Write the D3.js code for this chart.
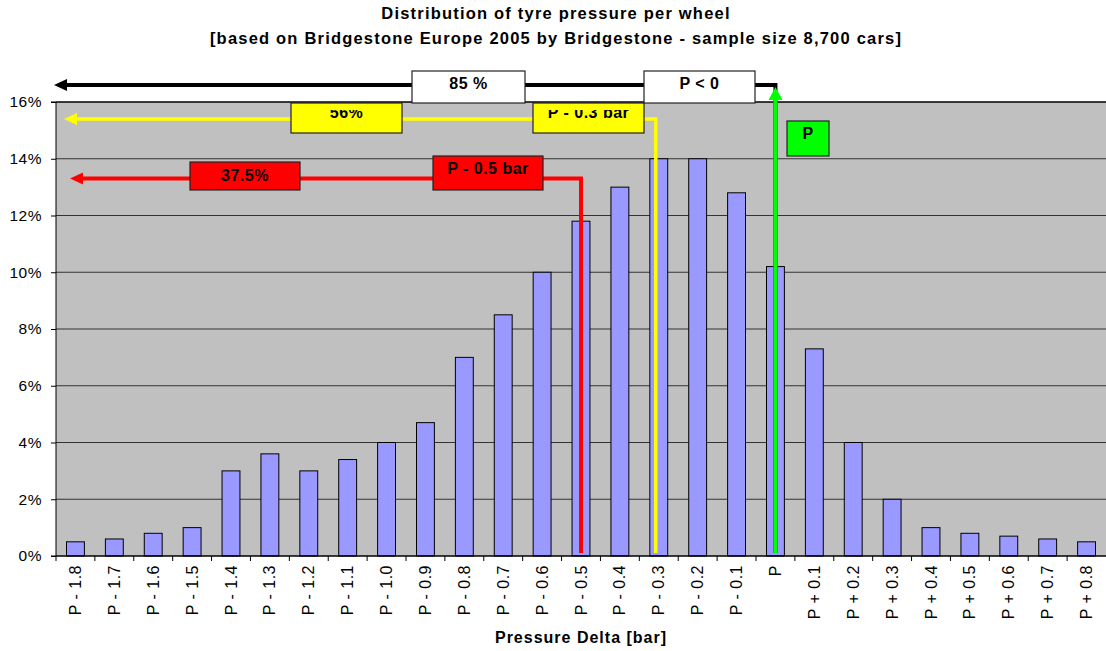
<!DOCTYPE html>
<html>
<head>
<meta charset="utf-8">
<script src="https://cdn.jsdelivr.net/npm/d3@7"></script>
<style>
	body { margin: 0; background: #fff; }
	svg { display: block; }
	text { font-family: Arial, "Liberation Sans", sans-serif; fill: #000; }
</style>
</head>
<body>
<div id="chart"></div>
<script>
(function () {

	'use strict';

	// categories and shares (%)
	let categories = ['P - 1.8', 'P - 1.7', 'P - 1.6', 'P - 1.5', 'P - 1.4', 'P - 1.3', 'P - 1.2', 'P - 1.1', 'P - 1.0',
		'P - 0.9', 'P - 0.8', 'P - 0.7', 'P - 0.6', 'P - 0.5', 'P - 0.4', 'P - 0.3', 'P - 0.2', 'P - 0.1',
		'P', 'P + 0.1', 'P + 0.2', 'P + 0.3', 'P + 0.4', 'P + 0.5', 'P + 0.6', 'P + 0.7', 'P + 0.8'];
	let shares = [0.5, 0.6, 0.8, 1.0, 3.0, 3.6, 3.0, 3.4, 4.0,
		4.7, 7.0, 8.5, 10.0, 11.8, 13.0, 14.0, 14.0, 12.8,
		10.2, 7.3, 4.0, 2.0, 1.0, 0.8, 0.7, 0.6, 0.5];
	let yTicks = [0, 2, 4, 6, 8, 10, 12, 14, 16];

	// threshold annotations: category where the line drops, level of the left arrow
	let markerCats = ['P - 0.5', 'P - 0.3', 'P'];
	let markerLevels = [13.3, 15.4, 16.6];
	let markerColors = ['#ff0000', '#ffff00', '#00ff00'];
	let shareLabels = ['37.5%', '56%', '85 %'];
	let limitLabels = ['P - 0.5 bar', 'P - 0.3 bar', 'P < 0'];

	let width = 1106, height = 651;
	let margin = {top: 102, right: 0, bottom: 95, left: 56};

	let svg = d3.select('#chart').append('svg')
		.attr('width', width)
		.attr('height', height);

	let x = d3.scaleBand()
		.domain(categories)
		.range([margin.left, width - margin.right])
		.paddingInner(0.54)
		.paddingOuter(0.27);

	let y = d3.scaleLinear()
		.domain([0, 16])
		.range([height - margin.bottom, margin.top]);

	let step = x.step();
	let bw = x.bandwidth();
	let cx = function (c) { return x(c) + bw / 2; };

	// title
	let titleLines = ['Distribution of tyre pressure per wheel',
		'[based on Bridgestone Europe 2005 by Bridgestone - sample size 8,700 cars]'];
	svg.append('g').selectAll('text')
		.data(titleLines)
		.enter().append('text')
		.attr('x', 556)
		.attr('y', function (d, i) { return 19 + i * 25; })
		.attr('text-anchor', 'middle')
		.style('font-size', '16.5px').style('font-weight', 'bold')
		.style('letter-spacing', '1.2px')
		.text(function (d) { return d; });

	// plot background
	svg.append('rect')
		.attr('x', margin.left).attr('y', margin.top)
		.attr('width', width - margin.left - margin.right)
		.attr('height', y(0) - margin.top)
		.attr('fill', '#c0c0c0');

	// gridlines
	svg.append('g').selectAll('line')
		.data(yTicks.slice(1, -1))
		.enter().append('line')
		.attr('x1', margin.left).attr('x2', width)
		.attr('y1', function (d) { return y(d); })
		.attr('y2', function (d) { return y(d); })
		.attr('stroke', '#333').attr('stroke-width', 1);

	// top border
	svg.append('line')
		.attr('x1', margin.left).attr('x2', width)
		.attr('y1', y(16)).attr('y2', y(16))
		.attr('stroke', '#000').attr('stroke-width', 1.5);

	// bars
	svg.append('g').selectAll('rect')
		.data(shares)
		.enter().append('rect')
		.attr('x', function (d, i) { return x(categories[i]); })
		.attr('y', function (d) { return y(d); })
		.attr('width', bw)
		.attr('height', function (d) { return y(0) - y(d); })
		.attr('fill', '#9999ff')
		.attr('stroke', '#000')
		.attr('stroke-width', 1);

	// y axis
	let yAxis = d3.axisLeft(y)
		.tickValues(yTicks)
		.tickSize(5)
		.tickFormat(function (d) { return d + '%'; });
	let yg = svg.append('g')
		.attr('transform', 'translate(' + margin.left + ',0)')
		.call(yAxis);
	yg.select('.domain').attr('stroke', '#000').attr('d', 'M-5,' + y(16) + 'H0V' + y(0) + 'H-5');
	yg.selectAll('.tick line').attr('stroke', '#000');
	yg.selectAll('.tick text')
		.attr('x', -14)
		.style('font-size', '15.5px')
		.style('letter-spacing', '0.5px')
		.style('font-family', 'Arial, "Liberation Sans", sans-serif');

	// x axis: baseline, ticks at band edges, rotated labels
	let xg = svg.append('g');
	xg.append('line')
		.attr('x1', margin.left).attr('x2', width)
		.attr('y1', y(0)).attr('y2', y(0))
		.attr('stroke', '#000').attr('stroke-width', 1.5);
	xg.selectAll('line.tick')
		.data(categories)
		.enter().append('line')
		.attr('class', 'tick')
		.attr('x1', function (d) { return x(d) - (step - bw) / 2; })
		.attr('x2', function (d) { return x(d) - (step - bw) / 2; })
		.attr('y1', y(0)).attr('y2', y(0) + 5)
		.attr('stroke', '#000');
	xg.selectAll('text')
		.data(categories)
		.enter().append('text')
		.attr('transform', function (d) { return 'translate(' + cx(d) + ',' + (y(0) + 9) + ') rotate(-90)'; })
		.attr('text-anchor', 'end')
		.attr('dy', '0.35em')
		.style('font-size', '16px')
		.style('letter-spacing', '0.5px')
		.text(function (d) { return d; });

	svg.append('text')
		.attr('x', (margin.left + width) / 2).attr('y', 643)
		.attr('text-anchor', 'middle')
		.style('font-size', '16px').style('font-weight', 'bold')
		.style('letter-spacing', '1px')
		.text('Pressure Delta [bar]');

	// threshold lines: vertical from the bar up, then left to an arrow head
	let lineW = [4, 3.5, 4];
	let tipX = [70, 64, 54];
	let dxs = [0, -3, 0];
	markerCats.forEach(function (c, i) {
		let lx = cx(c) + dxs[i];
		let ly = y(markerLevels[i]);
		let col = i === 2 ? '#000' : markerColors[i];
		svg.append('path')
			.attr('d', 'M' + lx + ',' + (y(0) - 3) + 'V' + ly + 'H' + (tipX[i] + 12))
			.attr('fill', 'none')
			.attr('stroke', col)
			.attr('stroke-width', lineW[i]);
		svg.append('path')
			.attr('d', 'M' + tipX[i] + ',' + ly + 'L' + (tipX[i] + 13) + ',' + (ly - 6) + 'L' + (tipX[i] + 13) + ',' + (ly + 6) + 'Z')
			.attr('fill', col);
	});

	// green vertical arrow at P (drawn over the black line corner)
	let gx = cx('P');
	svg.append('line')
		.attr('x1', gx).attr('x2', gx)
		.attr('y1', y(0) - 3).attr('y2', y(markerLevels[2]) + 12)
		.attr('stroke', '#00ff00').attr('stroke-width', 4);
	svg.append('path')
		.attr('d', 'M' + gx + ',' + (y(markerLevels[2]) + 2) + 'L' + (gx - 7) + ',' + (y(markerLevels[2]) + 15) + 'L' + (gx + 7) + ',' + (y(markerLevels[2]) + 15) + 'Z')
		.attr('fill', '#00ff00');

	// label boxes
	let boxes = [
		{t: shareLabels[0], fill: '#ff0000', x0: 190, x1: 300, y0: 162, y1: 190, by: 181},
		{t: limitLabels[0], fill: '#ff0000', x0: 433, x1: 543, y0: 156, y1: 190, by: 174},
		{t: shareLabels[1], fill: '#ffff00', x0: 291, x1: 402, y0: 103, y1: 133, by: 118, clip: true},
		{t: limitLabels[1], fill: '#ffff00', x0: 533, x1: 644, y0: 103, y1: 133, by: 118, clip: true},
		{t: shareLabels[2], fill: '#ffffff', x0: 412, x1: 525, y0: 71, y1: 103, by: 89},
		{t: limitLabels[2], fill: '#ffffff', x0: 644, x1: 755, y0: 71, y1: 103, by: 89},
		{t: 'P', fill: '#00ff00', x0: 787, x1: 829, y0: 121, y1: 156, by: 139}
	];

	svg.append('clipPath').attr('id', 'cut')
		.append('rect').attr('x', 0).attr('y', 110).attr('width', width).attr('height', 40);

	boxes.forEach(function (b) {
		svg.append('rect')
			.attr('x', b.x0).attr('y', b.y0)
			.attr('width', b.x1 - b.x0).attr('height', b.y1 - b.y0)
			.attr('fill', b.fill)
			.attr('stroke', '#222').attr('stroke-width', 1.2);
		let t = svg.append('text')
			.attr('x', (b.x0 + b.x1) / 2).attr('y', b.by)
			.attr('text-anchor', 'middle')
			.style('font-size', '16px').style('font-weight', 'bold')
			.style('letter-spacing', '0.5px')
			.text(b.t);
		if (b.clip) t.attr('clip-path', 'url(#cut)');
	});

})();
</script>
</body>
</html>
